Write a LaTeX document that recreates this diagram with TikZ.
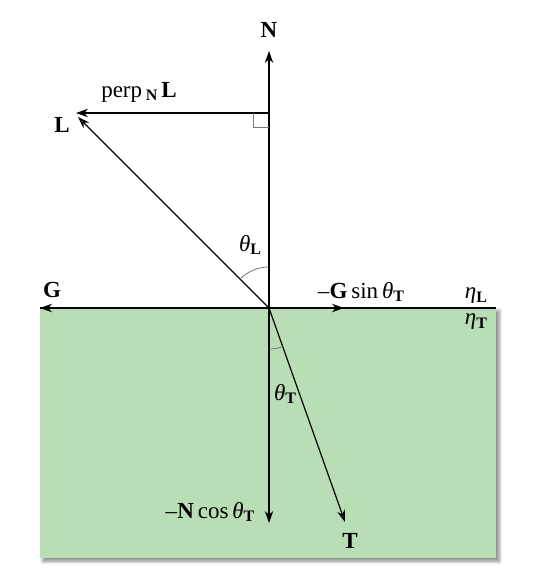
\documentclass[tikz,border=0pt]{standalone}
\usepackage{fontspec}
\setmainfont{Liberation Serif}
\usetikzlibrary{arrows.meta,shadows.blur}
\definecolor{medium}{RGB}{185,222,181}
\definecolor{markgray}{RGB}{120,120,120}
\newcommand{\lsub}[1]{\raisebox{-0.35ex}{\fontsize{8}{9}\selectfont\bfseries #1}}
\begin{document}
\begin{tikzpicture}[x=0.5pt,y=-0.5pt,
  thickvec/.style={line width=1.25pt,-{Stealth[length=6pt,width=4.2pt]}},
  thinvec/.style={line width=0.6pt,-{Stealth[length=6pt,width=4pt]}},
  lbl/.style={inner sep=0pt,font=\fontsize{11.5}{13}\selectfont},
  markline/.style={markgray,line width=0.4pt}]
\useasboundingbox (0,0) rectangle (532,577);
% medium
\fill[medium,blur shadow={shadow xshift=1.5pt,shadow yshift=-1.5pt,shadow blur steps=6,shadow opacity=50}] (40,308) rectangle (496,558);
\coordinate (O) at (269,308);
\coordinate (Ntip) at (269,51);
\coordinate (P) at (269,113);
\coordinate (Ltip) at (78,117);
\coordinate (Ptip) at (76,113);
\coordinate (Gtip) at (40,308);
\coordinate (Gs) at (344,308);
\coordinate (Iend) at (496,308);
\coordinate (Ttip) at (345,522);
\coordinate (Nc) at (269,523);
% interface
\draw[line width=1.25pt] (Gtip) -- (Iend);
% vectors
\draw[thickvec] (O) -- (Ntip);
\draw[thickvec] (P) -- (Ptip);
\draw[thickvec] (O) -- (Gtip);
\draw[thickvec] (O) -- (Gs);
\draw[thickvec] (O) -- (Nc);
\draw[thinvec] (O) -- (Ltip);
\draw[thinvec] (O) -- (Ttip);
% right angle mark
\draw[markline] (253,113) -- (253,127) -- (269,127);
% angle arcs
\draw[markline] (269,267) arc[start angle=90,end angle=135.2,radius=20.5pt];
\draw[markline] (269,349) arc[start angle=-90,end angle=-70.3,radius=20.5pt];
% labels
\node[lbl] (Nl) at (269,30) {\textbf{N}};
\node[lbl] (perpl) at (139,92) {perp\,\lsub{N}\,\textbf{L}};
\node[lbl] (Ll) at (62,125) {\textbf{L}};
\node[lbl] (Gl) at (52,290) {\textbf{G}};
\node[lbl] (thL) at (250,245) {\textit{θ}\lsub{L}};
\node[lbl] (Gsl) at (361,292) {–\textbf{G}\,sin\,\textit{θ}\lsub{T}};
\node[lbl] (etaL) at (476,296) {\textit{η}\lsub{L}};
\node[lbl] (etaT) at (476,322) {\textit{η}\lsub{T}};
\node[lbl] (thT) at (285,394) {\textit{θ}\lsub{T}};
\node[lbl] (Ncl) at (210,512) {–\textbf{N}\,cos\,\textit{θ}\lsub{T}};
\node[lbl] (Tl) at (350,541) {\textbf{T}};
\end{tikzpicture}
\end{document}
